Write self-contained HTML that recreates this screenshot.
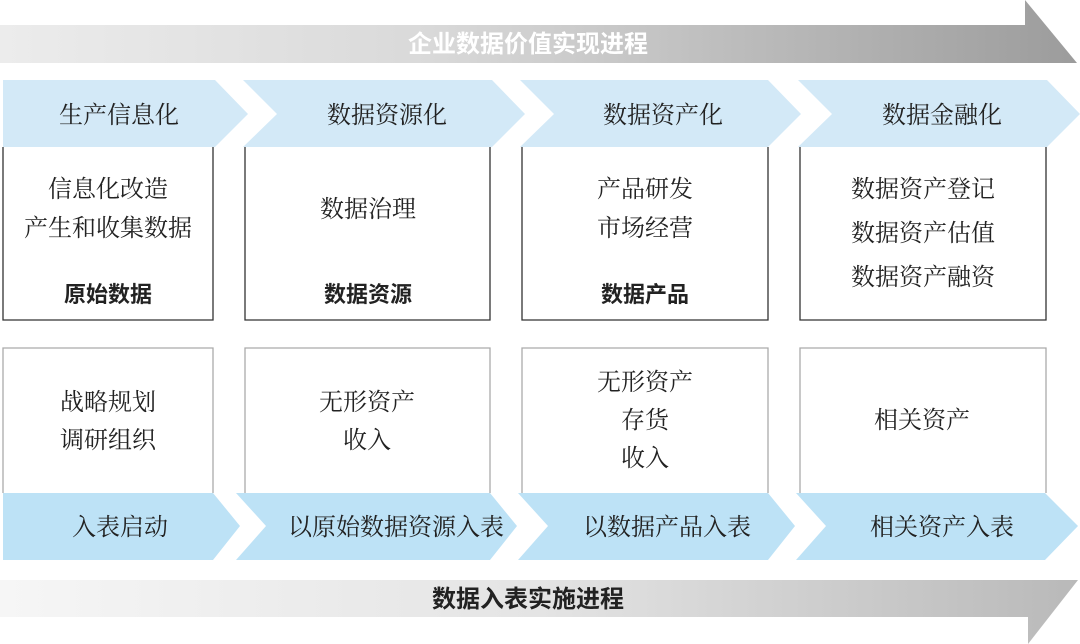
<!DOCTYPE html>
<html><head><meta charset="utf-8"><style>
html,body{margin:0;padding:0;background:#fff;}
svg{display:block}
.s{font-family:"Noto Serif CJK SC","Liberation Serif",serif;font-size:24px;fill:#222;text-anchor:middle}
.b{font-family:"Liberation Sans","Noto Sans CJK SC",sans-serif;font-size:22px;font-weight:bold;fill:#222;text-anchor:middle}
</style></head><body>
<svg width="1080" height="644" viewBox="0 0 1080 644" xmlns="http://www.w3.org/2000/svg">
<defs>
<linearGradient id="g1" x1="0" x2="1" y1="0" y2="0"><stop offset="0" stop-color="#ececec"/><stop offset="0.4" stop-color="#d9d9d9"/><stop offset="1" stop-color="#9c9c9c"/></linearGradient>
<linearGradient id="g2" x1="0" x2="1" y1="0" y2="0"><stop offset="0" stop-color="#f6f6f6"/><stop offset="0.5" stop-color="#e4e4e4"/><stop offset="1" stop-color="#b9b9b9"/></linearGradient>
</defs>
<polygon points="0,25 1025,25 1025,0 1077,63 0,63" fill="url(#g1)"/>
<text x="528" y="52" class="b" style="fill:#fff;font-size:24px">企业数据价值实现进程</text>
<polygon points="0,580 1078,580 1028,644 1028,617 0,617" fill="url(#g2)"/>
<text x="528" y="607" class="b" style="font-size:24px">数据入表实施进程</text>
<g fill="#d3e9f7">
<polygon points="3,80 215,80 248,114 215,147 3,147"/>
<polygon points="243,80 492,80 525,114 492,147 243,147 277,114"/>
<polygon points="520,80 768,80 801,114 768,147 520,147 554,114"/>
<polygon points="798,80 1047,80 1080,114 1047,147 798,147 832,114"/>
</g>
<g fill="#bde2f6">
<polygon points="3,493 213,493 240,526 213,560 3,560"/>
<polygon points="236,493 490,493 517,526 490,560 236,560 266,526"/>
<polygon points="518,493 768,493 795,526 768,560 518,560 548,526"/>
<polygon points="796,493 1045,493 1078,526 1045,560 796,560 826,526"/>
</g>
<g fill="none" stroke="#333" stroke-width="1.3">
<polyline points="3,147 3,320 213,320 213,147"/>
<polyline points="245,147 245,320 490,320 490,147"/>
<polyline points="522,147 522,320 768,320 768,147"/>
<polyline points="800,147 800,320 1046,320 1046,147"/>
</g>
<g fill="none" stroke="#aaa" stroke-width="1.3">
<polyline points="3,493 3,348 213,348 213,493"/>
<polyline points="245,493 245,348 490,348 490,493"/>
<polyline points="522,493 522,348 768,348 768,493"/>
<polyline points="800,493 800,348 1046,348 1046,493"/>
</g>
<text class="s" x="119" y="123">生产信息化</text>
<text class="s" x="387" y="123">数据资源化</text>
<text class="s" x="663" y="123">数据资产化</text>
<text class="s" x="942" y="123">数据金融化</text>
<text class="s" x="108" y="197">信息化改造</text>
<text class="s" x="108" y="236">产生和收集数据</text>
<text class="b" x="108" y="302">原始数据</text>
<text class="s" x="368" y="217">数据治理</text>
<text class="b" x="368" y="302">数据资源</text>
<text class="s" x="645" y="197">产品研发</text>
<text class="s" x="645" y="236">市场经营</text>
<text class="b" x="645" y="302">数据产品</text>
<text class="s" x="923" y="197">数据资产登记</text>
<text class="s" x="923" y="241">数据资产估值</text>
<text class="s" x="923" y="285">数据资产融资</text>
<text class="s" x="108" y="410">战略规划</text>
<text class="s" x="108" y="448">调研组织</text>
<text class="s" x="367" y="410">无形资产</text>
<text class="s" x="367" y="448">收入</text>
<text class="s" x="645" y="390">无形资产</text>
<text class="s" x="645" y="428">存货</text>
<text class="s" x="645" y="466">收入</text>
<text class="s" x="922" y="428">相关资产</text>
<text class="s" x="120" y="535">入表启动</text>
<text class="s" x="396" y="535">以原始数据资源入表</text>
<text class="s" x="667" y="535">以数据产品入表</text>
<text class="s" x="942" y="535">相关资产入表</text>
</svg>
</body></html>
